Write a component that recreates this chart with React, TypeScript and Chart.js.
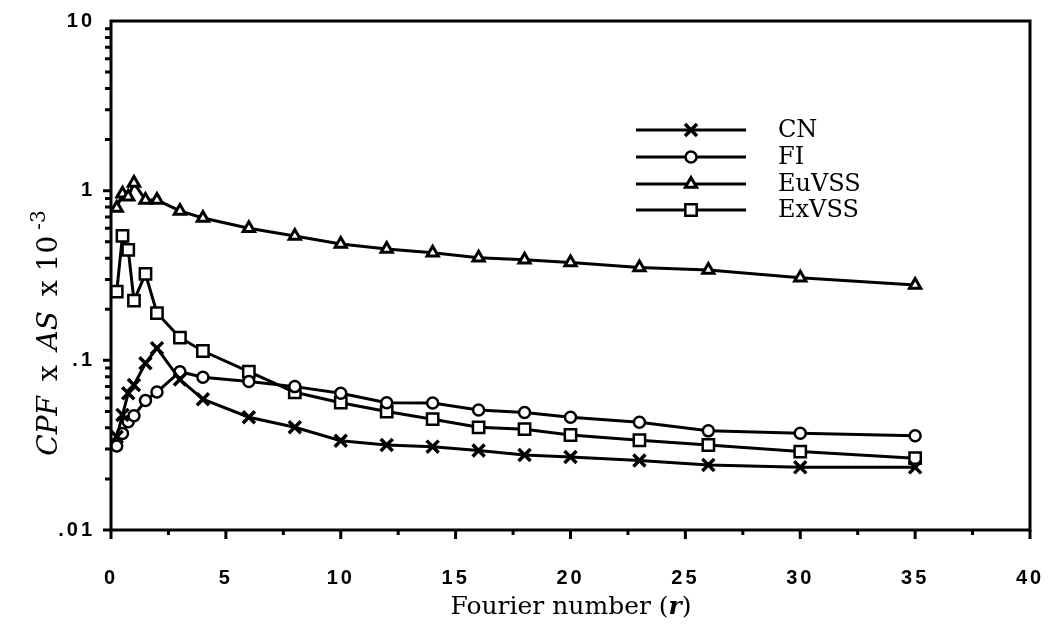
import React, { useEffect, useRef } from 'react';
import { Chart, registerables } from 'chart.js';
import { drawPoint } from 'chart.js/helpers';

Chart.register(...registerables);

const fourierNumbers = [0.25, 0.5, 0.75, 1, 1.5, 2, 3, 4, 6, 8, 10, 12, 14, 16, 18, 20, 23, 26, 30, 35];
const cnValues = [0.0354, 0.0477, 0.064, 0.0716, 0.096, 0.118, 0.077, 0.059, 0.0462, 0.0403, 0.0336, 0.0317, 0.031, 0.0294, 0.0277, 0.0269, 0.0257, 0.0242, 0.0234, 0.0234];
const fiValues = [0.0313, 0.037, 0.0435, 0.0472, 0.058, 0.065, 0.0857, 0.0794, 0.075, 0.07, 0.064, 0.0563, 0.056, 0.051, 0.0492, 0.0462, 0.0431, 0.0384, 0.0372, 0.0359];
const euvssValues = [0.79, 0.96, 0.92, 1.11, 0.88, 0.88, 0.76, 0.69, 0.6, 0.54, 0.485, 0.453, 0.431, 0.403, 0.391, 0.377, 0.352, 0.341, 0.307, 0.278];
const exvssValues = [0.254, 0.541, 0.448, 0.225, 0.323, 0.19, 0.136, 0.1135, 0.0857, 0.0648, 0.0563, 0.0499, 0.045, 0.0403, 0.0393, 0.0363, 0.0338, 0.0317, 0.029, 0.0265];

const seriesNames = ['CN', 'FI', 'EuVSS', 'ExVSS'];
const xTickValues = [0, 5, 10, 15, 20, 25, 30, 35, 40];
const xTickLabels = ['0', '5', '10', '15', '20', '25', '30', '35', '40'];
const yTickValues = [0.01, 0.1, 1, 10];
const yTickLabels = ['.01', '.1', '1', '10'];

const TICK_FONT = { family: '"Liberation Sans", Arial, sans-serif', size: 20, weight: 'bold' as const };
const SERIF = '"DejaVu Serif", "Liberation Serif", serif';

const frameAndTextPlugin = {
  id: 'frameAndText',
  beforeDraw(chart: any) {
    (chart.ctx as any).letterSpacing = '3px';
  },
  beforeDatasetsDraw(chart: any) {
    (chart.ctx as any).letterSpacing = '0px';
  },
  afterDraw(chart: any) {
    const ctx = chart.ctx as CanvasRenderingContext2D;
    (ctx as any).letterSpacing = '0px';
    const { left, right, top, bottom } = chart.chartArea;
    const xs = chart.scales.x;
    const ys = chart.scales.y;
    ctx.save();
    ctx.strokeStyle = '#000';
    ctx.lineWidth = 3;
    ctx.strokeRect(left, top, right - left, bottom - top);
    // x tick marks
    ctx.beginPath();
    for (let v = 0; v <= 40.001; v += 2.5) {
      const px = xs.getPixelForValue(v);
      const len = Math.abs(v % 5) < 1e-6 ? 9 : 5;
      ctx.moveTo(px, bottom);
      ctx.lineTo(px, bottom + len);
    }
    // y tick marks (log minor ticks)
    for (let d = 0.01; d < 9; d *= 10) {
      for (let k = 1; k <= 9; k++) {
        const v = d * k;
        const py = ys.getPixelForValue(v);
        const len = k === 1 ? 8 : 6;
        ctx.moveTo(left, py);
        ctx.lineTo(left - len, py);
      }
    }
    ctx.stroke();

    // x title
    ctx.fillStyle = '#000';
    ctx.textBaseline = 'alphabetic';
    const f1 = `25px ${SERIF}`;
    const f2 = `italic bold 25px ${SERIF}`;
    const parts: [string, string][] = [['Fourier number (', f1], ['r', f2], [')', f1]];
    let total = 0;
    parts.forEach(([t, f]) => { ctx.font = f; total += ctx.measureText(t).width; });
    let x0 = 571 - total / 2;
    parts.forEach(([t, f]) => { ctx.font = f; ctx.fillText(t, x0, 614); x0 += ctx.measureText(t).width; });

    // y title
    ctx.save();
    ctx.translate(57, 333);
    ctx.rotate(-Math.PI / 2);
    const gap = 6;
    const yParts: [string, string, number][] = [
      ['CPF', `italic 28px ${SERIF}`, 0],
      [' x ', `28px ${SERIF}`, 0],
      ['AS', `italic 28px ${SERIF}`, 0],
      [' x 10', `28px ${SERIF}`, 0],
      ['-3', `20px ${SERIF}`, -12],
    ];
    let tw = 0;
    yParts.forEach(([t, f]) => { ctx.font = f; tw += ctx.measureText(t).width + gap; });
    tw -= gap;
    let yx = -tw / 2;
    yParts.forEach(([t, f, dy]) => { ctx.font = f; ctx.fillText(t, yx, dy); yx += ctx.measureText(t).width + gap; });
    ctx.restore();

    // legend
    const legendY = [130, 157, 184, 210];
    chart.data.datasets.forEach((ds: any, i: number) => {
      const ly = legendY[i];
      ctx.strokeStyle = '#000';
      ctx.lineWidth = 3;
      ctx.beginPath();
      ctx.moveTo(636, ly);
      ctx.lineTo(746, ly);
      ctx.stroke();
      ctx.fillStyle = ds.pointBackgroundColor;
      ctx.strokeStyle = '#000';
      ctx.lineWidth = ds.pointBorderWidth;
      drawPoint(ctx, { pointStyle: ds.pointStyle, radius: ds.pointRadius, rotation: 0, borderWidth: ds.pointBorderWidth }, 691, ly);
      ctx.fillStyle = '#000';
      ctx.font = `24px ${SERIF}`;
      ctx.textBaseline = 'middle';
      ctx.fillText(ds.label, 778, ly + 1);
    });
    ctx.restore();
  },
};

export default function App() {
  const ref = useRef<HTMLCanvasElement | null>(null);
  useEffect(() => {
    document.body.style.margin = '0';
    const mk = (label: string, values: number[], style: string, radius: number, bw: number, bg: string) => ({
      label,
      data: fourierNumbers.map((x, i) => ({ x, y: values[i] })),
      borderColor: '#000',
      borderWidth: 3,
      pointStyle: style,
      pointRadius: radius,
      pointBorderWidth: bw,
      pointBorderColor: '#000',
      pointBackgroundColor: bg,
      tension: 0,
      fill: false,
    });
    const chart = new Chart(ref.current!, {
      type: 'line',
      data: {
        datasets: [
          mk(seriesNames[0], cnValues, 'crossRot', 8.5, 3.5, '#000'),
          mk(seriesNames[1], fiValues, 'circle', 5.5, 2.5, '#fff'),
          mk(seriesNames[2], euvssValues, 'triangle', 6.5, 3, '#fff'),
          mk(seriesNames[3], exvssValues, 'rect', 8, 2.5, '#fff'),
        ],
      },
      options: {
        responsive: false,
        animation: false,
        events: [],
        layout: { padding: { top: 21, right: 19, left: 0, bottom: 0 } },
        plugins: { legend: { display: false }, tooltip: { enabled: false }, title: { display: false } },
        scales: {
          x: {
            type: 'linear',
            min: 0,
            max: 40,
            afterBuildTicks: (s: any) => { s.ticks = xTickValues.map((v) => ({ value: v })); },
            afterFit: (s: any) => { s.height = 107; s.paddingLeft = 0; s.paddingRight = 0; },
            ticks: {
              callback: (v: any) => xTickLabels[xTickValues.indexOf(v)] ?? '',
              font: TICK_FONT,
              color: '#000',
              padding: 36,
              maxRotation: 0,
              autoSkip: false,
            },
            grid: { display: false, drawTicks: false },
            border: { display: false },
          },
          y: {
            type: 'logarithmic',
            min: 0.01,
            max: 10,
            afterBuildTicks: (s: any) => { s.ticks = yTickValues.map((v) => ({ value: v })); },
            afterFit: (s: any) => { s.width = 111; s.paddingTop = 0; s.paddingBottom = 0; },
            ticks: {
              callback: (v: any) => yTickLabels[yTickValues.indexOf(v)] ?? '',
              font: TICK_FONT,
              color: '#000',
              padding: 16,
              autoSkip: false,
            },
            grid: { display: false, drawTicks: false },
            border: { display: false },
          },
        },
      },
      plugins: [frameAndTextPlugin],
    } as any);
    return () => chart.destroy();
  }, []);
  return <canvas ref={ref} width={1049} height={637} style={{ display: 'block' }} />;
}
